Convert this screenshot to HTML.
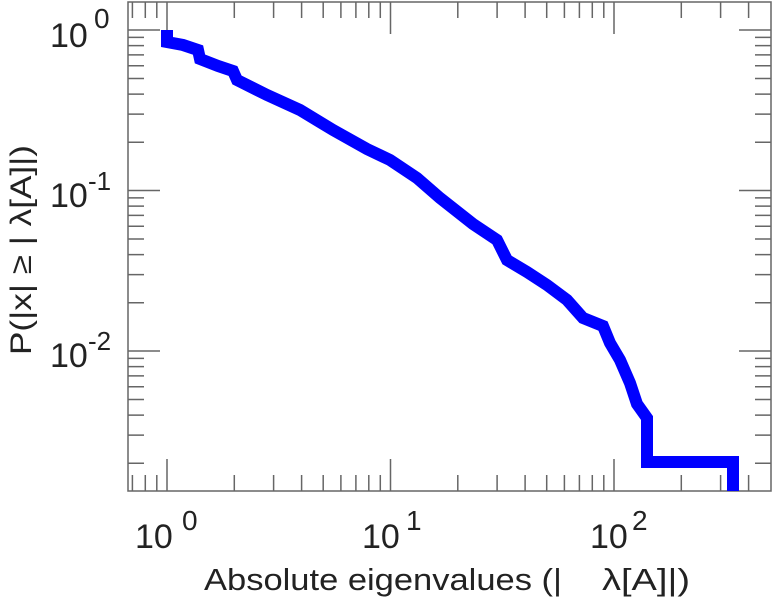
<!DOCTYPE html>
<html><head><meta charset="utf-8"><style>
html,body{margin:0;padding:0;background:#fff;}
svg{display:block;}
text{font-family:"Liberation Sans",Arial,sans-serif;fill:#222;}
</style></head><body>
<svg width="775" height="600" viewBox="0 0 775 600">
<rect width="775" height="600" fill="#fff"/>
<g stroke="#666" stroke-width="1.5" fill="none">
<rect x="128" y="2" width="643" height="489"/>
<path d="
M132.4,2v16 M145.3,2v16 M156.8,2v16 M167,2v32 M234.3,2v16 M273.6,2v16 M301.6,2v16 M323.2,2v16 M340.9,2v16 M355.9,2v16 M368.8,2v16 M380.3,2v16 M390.5,2v32 M457.8,2v16 M497.1,2v16 M525.1,2v16 M546.7,2v16 M564.4,2v16 M579.4,2v16 M592.3,2v16 M603.8,2v16 M614,2v32 M681.3,2v16 M720.6,2v16 M748.6,2v16
M132.4,491v-16 M145.3,491v-16 M156.8,491v-16 M167,491v-32 M234.3,491v-16 M273.6,491v-16 M301.6,491v-16 M323.2,491v-16 M340.9,491v-16 M355.9,491v-16 M368.8,491v-16 M380.3,491v-16 M390.5,491v-32 M457.8,491v-16 M497.1,491v-16 M525.1,491v-16 M546.7,491v-16 M564.4,491v-16 M579.4,491v-16 M592.3,491v-16 M603.8,491v-16 M614,491v-32 M681.3,491v-16 M720.6,491v-16 M748.6,491v-16
M128,30h32 M128,37.4h16 M128,45.6h16 M128,54.9h16 M128,65.7h16 M128,78.5h16 M128,94.1h16 M128,114.1h16 M128,142.2h16 M128,190.5h32 M128,197.9h16 M128,206.1h16 M128,215.4h16 M128,226.2h16 M128,239h16 M128,254.6h16 M128,274.6h16 M128,302.7h16 M128,351h32 M128,358.4h16 M128,366.6h16 M128,375.9h16 M128,386.7h16 M128,399.5h16 M128,415.1h16 M128,435.1h16 M128,463.2h16
M771,30h-32 M771,37.4h-16 M771,45.6h-16 M771,54.9h-16 M771,65.7h-16 M771,78.5h-16 M771,94.1h-16 M771,114.1h-16 M771,142.2h-16 M771,190.5h-32 M771,197.9h-16 M771,206.1h-16 M771,215.4h-16 M771,226.2h-16 M771,239h-16 M771,254.6h-16 M771,274.6h-16 M771,302.7h-16 M771,351h-32 M771,358.4h-16 M771,366.6h-16 M771,375.9h-16 M771,386.7h-16 M771,399.5h-16 M771,415.1h-16 M771,435.1h-16 M771,463.2h-16"/>
</g>
<path d="M167,30 L167,42 L183,45 L198,50 L200,59 L218,66 L233,71 L237,80 L267,95 L300,110 L333,130 L367,149 L390,160 L417,178 L440,198 L473,224 L497,240 L507,260 L527,272 L547,285 L567,300 L583,318 L603,326 L610,343 L620,360 L630,383 L637,404 L647,418 L647,462 L733,462 L733,491" fill="none" stroke="#0000ff" stroke-width="12" stroke-linejoin="miter" stroke-linecap="butt"/>
<g font-size="34">
<text x="50" y="47">10</text><text x="94" y="28" font-size="28">0</text>
<text x="50" y="207">10</text><text x="88" y="190" font-size="26">-1</text>
<text x="50" y="367">10</text><text x="88" y="350" font-size="26">-2</text>
<text x="135" y="548">10</text><text x="182" y="530" font-size="28">0</text>
<text x="362" y="548">10</text><text x="406" y="530" font-size="28">1</text>
<text x="590" y="548">10</text><text x="632" y="530" font-size="28">2</text>
</g>
<text x="204" y="590" font-size="31" textLength="358" lengthAdjust="spacingAndGlyphs">Absolute eigenvalues (|</text>
<text x="602" y="590" font-size="31" textLength="88" lengthAdjust="spacingAndGlyphs">λ[A]|)</text>
<text transform="translate(31,355) rotate(-90)" font-size="30" textLength="210" lengthAdjust="spacingAndGlyphs">P(|x|  ≥ | λ[A]|)</text>
</svg>
</body></html>
